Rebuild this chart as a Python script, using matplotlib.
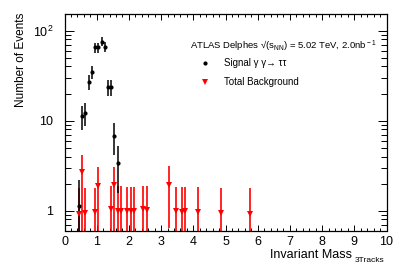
import matplotlib
matplotlib.use("Agg")
import matplotlib.pyplot as plt
import matplotlib.ticker as mticker
import numpy as np

plt.rcParams['font.family'] = ['Liberation Sans', 'DejaVu Sans']
plt.rcParams['mathtext.fontset'] = 'custom'
plt.rcParams['mathtext.rm'] = 'Liberation Sans'
plt.rcParams['mathtext.it'] = 'Liberation Sans:italic'

# Signal (gamma gamma -> tau tau)
sig_x = [0.45, 0.55, 0.65, 0.75, 0.85, 0.95, 1.05, 1.15, 1.25, 1.35, 1.45, 1.55, 1.65]
sig_y = [1.13, 11.3, 12.3, 27.1, 35.0, 65.0, 65.0, 75.5, 66.0, 23.5, 23.5, 6.8, 3.4]

# Total background
bkg_x = [0.45, 0.55, 0.65, 0.95, 1.05, 1.45, 1.55, 1.65, 1.75, 1.95, 2.05, 2.15,
         2.45, 2.55, 3.25, 3.45, 3.65, 3.75, 4.15, 4.85, 5.75]
bkg_y = [0.91, 2.71, 0.95, 0.97, 1.90, 1.04, 1.93, 1.00, 1.00, 1.00, 1.00, 1.00,
         1.05, 1.03, 1.93, 1.00, 0.97, 1.00, 0.98, 0.95, 0.92]
bkg_err_up = [0.86, 1.45, 0.83, 0.81, 1.18, 0.86, 1.15, 0.90, 0.90, 0.85, 0.85, 0.85,
              0.85, 0.87, 1.21, 0.85, 0.88, 0.85, 0.87, 0.83, 0.86]
bkg_err_dn = [0.91, 2.71, 0.95, 0.97, 1.90, 1.04, 1.93, 1.00, 1.00, 1.00, 1.00, 1.00,
              1.05, 1.03, 1.29, 1.00, 0.97, 1.00, 0.98, 0.95, 0.92]

W, H = 407, 278
fig = plt.figure(figsize=(W / 100, H / 100), dpi=100)
ax = fig.add_axes([64.5 / W, 1 - 230.5 / H, (386.5 - 64.5) / W, (230.5 - 14) / H])

ax.errorbar(bkg_x, bkg_y, yerr=[bkg_err_dn, bkg_err_up], fmt='v', color='red',
            ecolor='red', elinewidth=1.2, capsize=0, markersize=4.5, mew=0)
sig_err = np.sqrt(np.array(sig_y))
ax.errorbar(sig_x, sig_y, yerr=sig_err, fmt='o', color='black', ecolor='black',
            elinewidth=1.1, capsize=0, markersize=3, mew=0)

ax.set_yscale('log')
ax.set_xlim(0, 10)
ax.set_ylim(0.603, 153)

ax.xaxis.set_major_locator(mticker.MultipleLocator(1))
ax.xaxis.set_minor_locator(mticker.MultipleLocator(0.2))
ax.yaxis.set_major_locator(mticker.FixedLocator([1, 10, 100]))
ax.yaxis.set_minor_locator(mticker.LogLocator(base=10, subs=np.arange(2, 10)))
ax.yaxis.set_minor_formatter(mticker.NullFormatter())
ax.yaxis.set_major_formatter(mticker.FixedFormatter(['1', '10', r'10$^{2}$']))

ax.tick_params(axis='both', which='both', direction='in', top=True, right=True,
               labelsize=9, width=0.7)
ax.tick_params(axis='x', which='major', length=4.3, pad=4)
ax.tick_params(axis='x', which='minor', length=2.2)
ax.tick_params(axis='y', which='major', length=6.5, pad=8)
ax.tick_params(axis='y', which='minor', length=4.3)
for s in ax.spines.values():
    s.set_linewidth(0.9)

# axis titles
fig.text(352 / W, 1 - 258 / H, 'Invariant Mass', ha='right', va='baseline', fontsize=9)
fig.text(355 / W, 1 - 262 / H, '3Tracks', ha='left', va='baseline', fontsize=6)
fig.text(20.7 / W, 1 - 13 / H, 'Number of Events', rotation=90, ha='center', va='top',
         fontsize=8.5)

# legend
fig.text(190 / W, 1 - 45.7 / H,
         'ATLAS Delphes \u221a(s$_{\\rm NN}$) = 5.02 TeV, 2.0nb$^{\\rm -1}$',
         ha='left', va='center', fontsize=6.8)
fig.lines.append(plt.Line2D([205 / W], [1 - 63.3 / H], marker='o', color='black',
                            markersize=3, mew=0, transform=fig.transFigure))
fig.lines.append(plt.Line2D([205 / W], [1 - 81.7 / H], marker='v', color='red',
                            markersize=4.5, mew=0, transform=fig.transFigure))
fig.text(224.3 / W, 1 - 63.3 / H, 'Signal \u03b3 \u03b3\u2192 \u03c4\u03c4', ha='left',
         va='center', fontsize=7)
fig.text(224.3 / W, 1 - 81.7 / H, 'Total Background', ha='left', va='center', fontsize=7)

fig.savefig('out.png', dpi=100)
